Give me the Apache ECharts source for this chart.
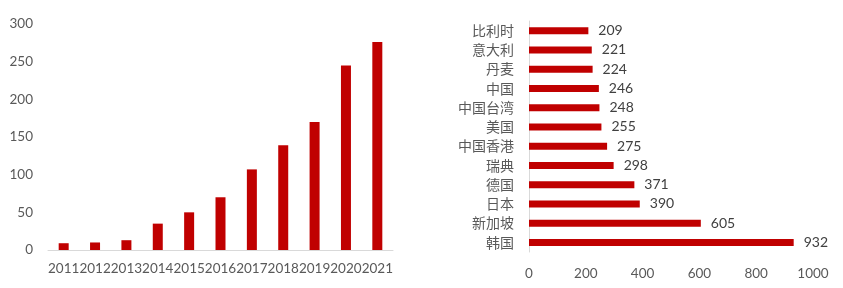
<!DOCTYPE html>
<html><head><meta charset="utf-8">
<script src="https://cdn.jsdelivr.net/npm/echarts@6/dist/echarts.min.js"></script>
<style>html,body{margin:0;padding:0;background:#fff}#c{width:843px;height:288px}</style>
</head><body><div id="c"></div>
<script>
const years = ['2011','2012','2013','2014','2015','2016','2017','2018','2019','2020','2021'];
const yearValues = [9, 10, 13, 35, 50, 70, 107, 139, 170, 245, 276];
const leftTicks = [0, 50, 100, 150, 200, 250, 300];
const regions = ['比利时','意大利','丹麦','中国','中国台湾','美国','中国香港','瑞典','德国','日本','新加坡','韩国'];
const regionValues = [209, 221, 224, 246, 248, 255, 275, 298, 371, 390, 605, 932];
const rightTicks = [0, 200, 400, 600, 800, 1000];

const chart = echarts.init(document.getElementById('c'), null, {renderer:'canvas'});
const numFont = 'Lato, "Open Sans", sans-serif';
const cjkFont = '"Noto Sans CJK SC", sans-serif';
chart.setOption({
  animation: false,
  backgroundColor: '#fff',
  grid: [
    {left: 48, top: 24, width: 345, height: 226},
    {left: 529, top: 21, width: 284, height: 231}
  ],
  xAxis: [
    {gridIndex: 0, type: 'category', data: years,
     axisLine: {lineStyle: {color: '#d9d9d9'}}, axisTick: {show: false},
     axisLabel: {color: '#595959', fontSize: 13.5, fontFamily: numFont, margin: 12, interval: 0}},
    {gridIndex: 1, type: 'value', min: rightTicks[0], max: rightTicks[rightTicks.length-1], interval: 200,
     axisLine: {show: false}, axisTick: {show: false}, splitLine: {show: false},
     axisLabel: {color: '#595959', fontSize: 13.5, fontFamily: numFont, margin: 15, formatter: v => String(v)}}
  ],
  yAxis: [
    {gridIndex: 0, type: 'value', min: leftTicks[0], max: leftTicks[leftTicks.length-1], interval: 50,
     axisLine: {show: false}, axisTick: {show: false}, splitLine: {show: false},
     axisLabel: {color: '#595959', fontSize: 13.5, fontFamily: numFont, margin: 15}},
    {gridIndex: 1, type: 'category', data: regions, inverse: true,
     axisLine: {show: true, lineStyle: {color: '#d9d9d9'}}, axisTick: {show: false},
     axisLabel: {color: '#595959', fontSize: 14, fontFamily: cjkFont, margin: 15, interval: 0}}
  ],
  series: [
    {type: 'bar', xAxisIndex: 0, yAxisIndex: 0, data: yearValues, barWidth: 10,
     itemStyle: {color: '#C00000'}},
    {type: 'bar', xAxisIndex: 1, yAxisIndex: 1, data: regionValues, barWidth: 7,
     itemStyle: {color: '#C00000'},
     label: {show: true, position: 'right', distance: 10, color: '#404040', fontSize: 14, fontFamily: numFont}}
  ]
});
</script></body></html>
